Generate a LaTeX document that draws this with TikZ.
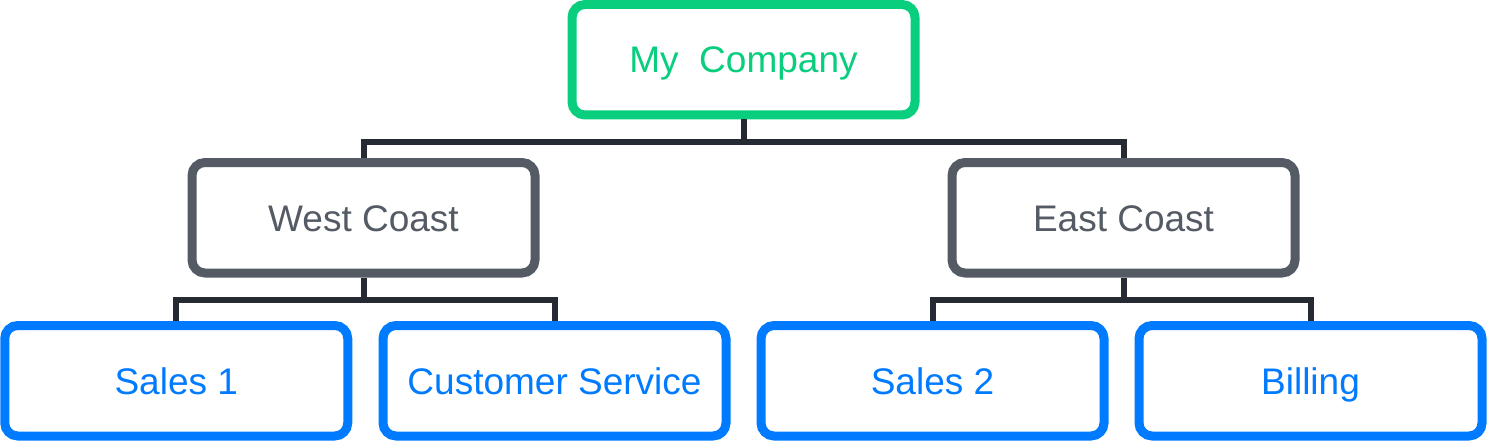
\documentclass[tikz,border=0pt]{standalone}
\usepackage{fontspec}
\setmainfont{Liberation Sans}
\definecolor{cgreen}{RGB}{8,206,126}
\definecolor{cgray}{RGB}{84,91,100}
\definecolor{cblue}{RGB}{0,123,255}
\definecolor{cline}{RGB}{38,42,51}
\begin{document}
\begin{tikzpicture}[x=1pt,y=1pt,
  box/.style={draw, line width=9pt, rounded corners=13pt, minimum width=343pt, minimum height=110.5pt,
    inner sep=0pt, text height=26.5pt, text depth=0pt, font=\fontsize{37}{44}\selectfont, fill=white},
  rootbox/.style={box, draw=cgreen, text=cgreen},
  midbox/.style={box, draw=cgray, text=cgray},
  leafbox/.style={box, draw=cblue, text=cblue},
  conn/.style={draw=cline, line width=6pt, line join=miter}]
\useasboundingbox (0,0) rectangle (1487,-441);
\node[rootbox] (root) at (743.5,-59.75) {My\ \ Company};
\node[midbox] (west) at (363.5,-217.75) {West Coast};
\node[midbox] (east) at (1123.5,-217.75) {East Coast};
\node[leafbox] (s1) at (176.25,-380.75) {Sales 1};
\node[leafbox] (cs) at (554.5,-380.75) {Customer Service};
\node[leafbox] (s2) at (932.5,-380.75) {Sales 2};
\node[leafbox] (bill) at (1310.5,-380.75) {Billing};
\coordinate (b1) at (0,-142);
\coordinate (b2) at (0,-299.5);
\draw[conn] (root.south) -- (root.south |- b1);
\draw[conn] (west.north) |- (root.south |- b1) -| (east.north);
\draw[conn] (west.south) -- (west.south |- b2);
\draw[conn] (s1.north) |- (west.south |- b2) -| (cs.north);
\draw[conn] (east.south) -- (east.south |- b2);
\draw[conn] (s2.north) |- (east.south |- b2) -| (bill.north);
\end{tikzpicture}
\end{document}
